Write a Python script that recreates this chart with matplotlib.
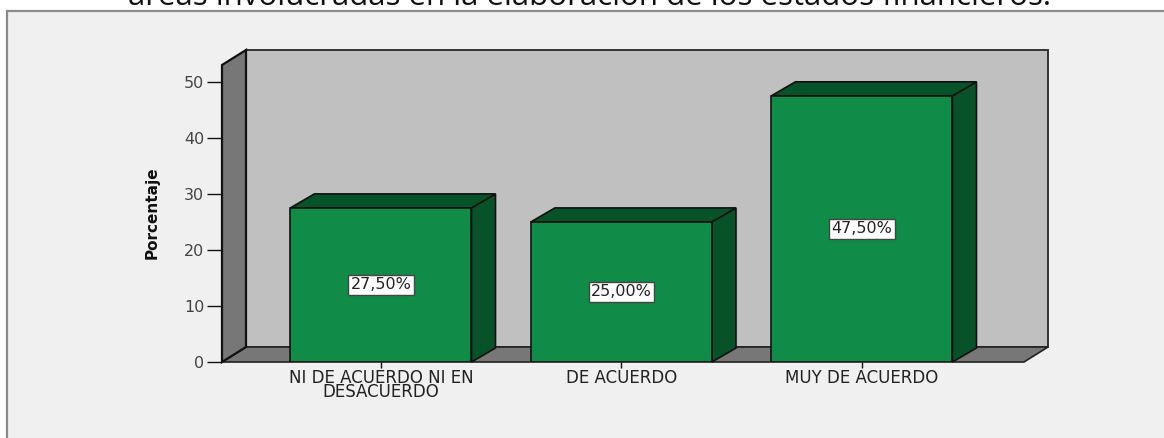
import matplotlib
matplotlib.use("Agg")
import matplotlib.pyplot as plt
from matplotlib.patches import Polygon, Rectangle

# Data
categories = ["NI DE ACUERDO NI EN\nDESACUERDO", "DE ACUERDO", "MUY DE ACUERDO"]
percentages = [27.5, 25.0, 47.5]
value_labels = ["27,50%", "25,00%", "47,50%"]
y_ticks = [0, 10, 20, 30, 40, 50]
title = "áreas involucradas en la elaboración de los estados financieros."
y_label = "Porcentaje"

# Styling
W, H = 1164, 438
FRONT = "#108c48"
SHADE = "#075228"
WALL = "#777777"
BACK = "#c0c0c0"
PANEL = "#f0f0f0"

fig = plt.figure(figsize=(W / 100, H / 100), dpi=100)
fig.patch.set_facecolor("white")

# outer chart panel with its frame
fig.patches.append(Rectangle((7 / W, -0.05), 1.1, (H - 11) / H + 0.05,
                             transform=fig.transFigure, facecolor=PANEL,
                             edgecolor="#8a8a8a", linewidth=1.6, zorder=-5))
fig.text(590 / W, 1 - 5 / H, title, ha="center", va="baseline",
         fontsize=22.5, family=["Open Sans", "DejaVu Sans"], color="#111111")

# axes frame = front plane of the 3-D box
x0, x1 = 222, 1024
y0, y1 = 362, 65
ax = fig.add_axes([x0 / W, (H - y0) / H, (x1 - x0) / W, (y0 - y1) / H])
ax.set_zorder(2)
ax.patch.set_visible(False)
for s in ax.spines.values():
    s.set_visible(False)

xmin, xmax = -0.661, 2.674
ymax = 53.0
ax.set_xlim(xmin, xmax)
ax.set_ylim(0, ymax)

# depth of the box, in data units
DX = 24 / ((x1 - x0) / (xmax - xmin))
DY = 15 / ((y0 - y1) / ymax)

# back wall, floor and left wall
ax.add_patch(Rectangle((xmin + DX, DY), xmax - xmin, ymax, facecolor=BACK,
                       edgecolor="#333333", linewidth=1.4, clip_on=False, zorder=1))
ax.add_patch(Polygon([(xmin, 0), (xmax, 0), (xmax + DX, DY), (xmin + DX, DY)],
                     closed=True, facecolor=WALL, edgecolor="#222222",
                     linewidth=1.2, clip_on=False, zorder=2))
ax.add_patch(Polygon([(xmin, 0), (xmin, ymax), (xmin + DX, ymax + DY), (xmin + DX, DY)],
                     closed=True, facecolor=WALL, edgecolor="#111111",
                     linewidth=1.6, clip_on=False, zorder=2))

# bars
xs = list(range(len(categories)))
bw = 0.753
ax.bar(xs, percentages, width=bw, color=FRONT, edgecolor="#111111",
       linewidth=1.2, zorder=5)
dx_b = 24 / ((x1 - x0) / (xmax - xmin))
dy_b = 14 / ((y0 - y1) / ymax)
for x, v, lab in zip(xs, percentages, value_labels):
    r = x + bw / 2
    l = x - bw / 2
    ax.add_patch(Polygon([(r, 0), (r, v), (r + dx_b, v + dy_b), (r + dx_b, dy_b)],
                         closed=True, facecolor=SHADE, edgecolor="#111111",
                         linewidth=1.2, clip_on=False, zorder=4))
    ax.add_patch(Polygon([(l, v), (r, v), (r + dx_b, v + dy_b), (l + dx_b, v + dy_b)],
                         closed=True, facecolor=SHADE, edgecolor="#111111",
                         linewidth=1.2, clip_on=False, zorder=4))
    ax.text(x, v / 2, lab, ha="center", va="center", fontsize=11.5,
            family="DejaVu Sans", color="#222222", zorder=7,
            bbox=dict(boxstyle="square,pad=0.15", facecolor="white",
                      edgecolor="#444444", linewidth=1))

ax.set_yticks(y_ticks)
ax.set_yticklabels([str(t) for t in y_ticks], family="DejaVu Sans")
ax.tick_params(axis="y", length=10.8, width=1, color="#111111", pad=2,
               labelsize=11.5, labelcolor="#444444")
ax.set_xticks(xs)
ax.set_xticklabels(categories, linespacing=0.72, family="DejaVu Sans")
ax.tick_params(axis="x", length=4.3, width=1, color="#111111", pad=1,
               labelsize=12, labelcolor="#222222")

fig.text(152 / W, 1 - 213 / H, y_label, rotation=90, ha="center", va="center",
         fontsize=11, fontweight="bold",
         family=["Liberation Sans Narrow", "DejaVu Sans"], color="#111111")

fig.savefig("out.png", dpi=100)
